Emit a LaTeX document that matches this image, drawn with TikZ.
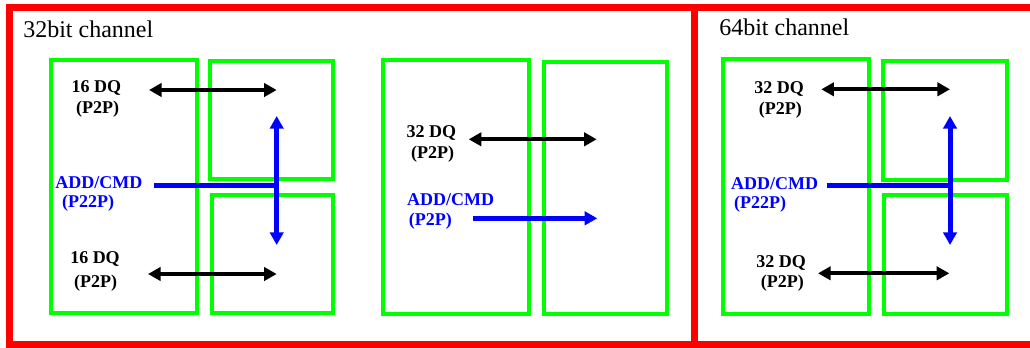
\documentclass[tikz,border=0pt]{standalone}
\usepackage{fontspec}
\setmainfont{Liberation Serif}
\usetikzlibrary{arrows.meta,fit}
\definecolor{fred}{RGB}{255,0,0}
\definecolor{fgreen}{RGB}{0,255,0}
\definecolor{fblue}{RGB}{0,0,255}
\tikzset{
  frame/.style={draw=fred,line width=5.25pt},
  chip/.style={draw=fgreen,line width=3pt,inner sep=0pt},
  tip/.style={Triangle[length=9.5pt,width=10pt]},
  dqarrow/.style={draw=black,line width=3pt,{Triangle[length=9.5pt,width=10pt]}-{Triangle[length=9.5pt,width=10pt]}},
  cmdline/.style={draw=fblue,line width=3.75pt},
  cmdboth/.style={cmdline,{Triangle[length=9.5pt,width=10pt]}-{Triangle[length=9.5pt,width=10pt]}},
  cmdone/.style={cmdline,-{Triangle[length=9.5pt,width=10pt]}},
  lbl/.style={inner sep=0pt,font=\bfseries\fontsize{13.5}{15}\selectfont},
  blbl/.style={lbl,text=fblue},
  title/.style={inner sep=0pt,anchor=base west,font=\fontsize{18}{21}\selectfont}
}
\begin{document}
\begin{tikzpicture}[x=0.75pt,y=-0.75pt]
\useasboundingbox (0,0) rectangle (1030,347);
\clip (0,0) rectangle (1030,347);
% red frame
\draw[frame] (9.5,7.5) rectangle (1045,344.5);
\coordinate (dtop) at (694,7.5);
\coordinate (dbot) at (694,344.5);
\draw[frame] (dtop) -- (dbot);
\node[title] (t32) at (23,37.7) {32bit channel};
\node[title] (t64) at (719,35) {64bit channel};
% ---- left panel (32bit, P22P)
\coordinate (A1) at (50.5,59.5);  \coordinate (A2) at (196.7,313);
\coordinate (B1) at (210,61);     \coordinate (B2) at (333,179);
\coordinate (C1) at (211.5,195);  \coordinate (C2) at (333,313);
\node[chip,fit=(A1)(A2)] (A) {};
\node[chip,fit=(B1)(B2)] (B) {};
\node[chip,fit=(C1)(C2)] (C) {};
\coordinate (a1s) at (149,90);   \coordinate (a1e) at (276.7,90);
\coordinate (a2s) at (148,274);  \coordinate (a2e) at (276.7,274);
\coordinate (av1) at (276.7,116); \coordinate (av2) at (276.7,245);
\coordinate (ahs) at (154,185.7); \coordinate (ahe) at (278.5,185.7);
\draw[dqarrow] (a1s) -- (a1e);
\draw[dqarrow] (a2s) -- (a2e);
\draw[cmdline] (ahs) -- (ahe);
\draw[cmdboth] (av1) -- (av2);
\node[lbl] (l1a) at (96.3,88.3) {16 DQ};
\node[lbl] (l1b) at (97.7,109.3) {(P2P)};
\node[blbl] (l2a) at (98.8,182.7) {ADD/CMD};
\node[blbl] (l2b) at (88,203.3) {(P22P)};
\node[lbl] (l3a) at (95,258.7) {16 DQ};
\node[lbl] (l3b) at (95.7,282.7) {(P2P)};
% ---- middle panel (32bit, P2P)
\coordinate (D1) at (383,59.7);   \coordinate (D2) at (528.7,314.3);
\coordinate (E1) at (544,61.5);   \coordinate (E2) at (666.7,314);
\node[chip,fit=(D1)(D2)] (D) {};
\node[chip,fit=(E1)(E2)] (E) {};
\coordinate (m1s) at (468.7,139.3); \coordinate (m1e) at (596.7,139.3);
\coordinate (m2s) at (472.7,218.3); \coordinate (m2e) at (597.3,218.3);
\draw[dqarrow] (m1s) -- (m1e);
\draw[cmdone] (m2s) -- (m2e);
\node[lbl] (m1a) at (431.3,132.7) {32 DQ};
\node[lbl] (m1b) at (432.7,154.3) {(P2P)};
\node[blbl] (m2a) at (450.7,199.3) {ADD/CMD};
\node[blbl] (m2b) at (430.3,220.7) {(P2P)};
% ---- right panel (64bit)
\coordinate (F1) at (723,59.3);   \coordinate (F2) at (868.7,314.3);
\coordinate (G1) at (883.3,60.7); \coordinate (G2) at (1006.7,180);
\coordinate (H1) at (884,194.7);  \coordinate (H2) at (1006.7,314.3);
\node[chip,fit=(F1)(F2)] (F) {};
\node[chip,fit=(G1)(G2)] (G) {};
\node[chip,fit=(H1)(H2)] (H) {};
\coordinate (r1s) at (821.3,89.3); \coordinate (r1e) at (950,89.3);
\coordinate (r2s) at (818,273.3);  \coordinate (r2e) at (949.3,273.3);
\coordinate (rv1) at (950,116); \coordinate (rv2) at (950,245);
\coordinate (rhs) at (826.7,185.7); \coordinate (rhe) at (951.8,185.7);
\draw[dqarrow] (r1s) -- (r1e);
\draw[dqarrow] (r2s) -- (r2e);
\draw[cmdline] (rhs) -- (rhe);
\draw[cmdboth] (rv1) -- (rv2);
\node[lbl] (r1a) at (779,89.3) {32 DQ};
\node[lbl] (r1b) at (780.3,110) {(P2P)};
\node[blbl] (r2a) at (774.7,183.3) {ADD/CMD};
\node[blbl] (r2b) at (760,204) {(P22P)};
\node[lbl] (r3a) at (781,262.7) {32 DQ};
\node[lbl] (r3b) at (782.3,282.7) {(P2P)};
\end{tikzpicture}
\end{document}
